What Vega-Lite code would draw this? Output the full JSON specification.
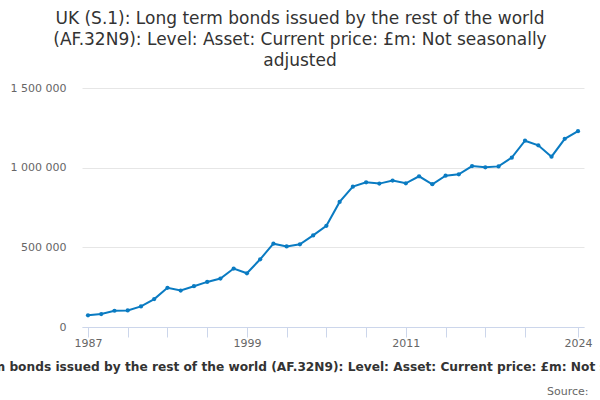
{
  "$schema": "https://vega.github.io/schema/vega-lite/v6.json",
  "width": 502,
  "height": 239,
  "autosize": {"type": "none"},
  "padding": {"left": 82, "top": 88, "right": 16, "bottom": 73},
  "background": "white",
  "config": {"view": {"stroke": null}, "font": "DejaVu Sans"},
  "title": {
    "text": ["UK (S.1): Long term bonds issued by the rest of the world", "(AF.32N9): Level: Asset: Current price: £m: Not seasonally", "adjusted"],
    "anchor": "middle",
    "dx": -33,
    "offset": 12,
    "fontSize": 17,
    "fontWeight": "normal",
    "color": "#333333",
    "lineHeight": 21
  },
  "data": {"values": [
    {"year": 1987, "value": 73000},
    {"year": 1988, "value": 81000},
    {"year": 1989, "value": 102000},
    {"year": 1990, "value": 104000},
    {"year": 1991, "value": 129000},
    {"year": 1992, "value": 175000},
    {"year": 1993, "value": 246000},
    {"year": 1994, "value": 229000},
    {"year": 1995, "value": 256000},
    {"year": 1996, "value": 283000},
    {"year": 1997, "value": 304000},
    {"year": 1998, "value": 367000},
    {"year": 1999, "value": 337000},
    {"year": 2000, "value": 425000},
    {"year": 2001, "value": 523000},
    {"year": 2002, "value": 506000},
    {"year": 2003, "value": 519000},
    {"year": 2004, "value": 575000},
    {"year": 2005, "value": 635000},
    {"year": 2006, "value": 785000},
    {"year": 2007, "value": 881000},
    {"year": 2008, "value": 908000},
    {"year": 2009, "value": 900000},
    {"year": 2010, "value": 919000},
    {"year": 2011, "value": 902000},
    {"year": 2012, "value": 946000},
    {"year": 2013, "value": 896000},
    {"year": 2014, "value": 950000},
    {"year": 2015, "value": 958000},
    {"year": 2016, "value": 1010000},
    {"year": 2017, "value": 1002000},
    {"year": 2018, "value": 1008000},
    {"year": 2019, "value": 1063000},
    {"year": 2020, "value": 1169000},
    {"year": 2021, "value": 1140000},
    {"year": 2022, "value": 1069000},
    {"year": 2023, "value": 1181000},
    {"year": 2024, "value": 1229000}
  ]},
  "mark": {"type": "line", "color": "#0a7bc2", "strokeWidth": 2, "point": {"filled": true, "size": 18, "color": "#0a7bc2"}},
  "encoding": {
    "x": {
      "field": "year",
      "type": "quantitative",
      "scale": {"domain": [1987, 2024], "nice": false, "zero": false, "padding": 6},
      "axis": {
        "values": [1987, 1990, 1993, 1996, 1999, 2002, 2005, 2008, 2011, 2014, 2017, 2020, 2024],
        "labelExpr": "(datum.value == 1987 || datum.value == 1999 || datum.value == 2011 || datum.value == 2024) ? datum.value + '' : ''",
        "grid": false,
        "domainColor": "#ccd6eb",
        "tickColor": "#ccd6eb",
        "tickSize": 10,
        "labelColor": "#666666",
        "labelFontSize": 11,
        "labelPadding": 0,
        "labelFlush": false,
        "labelOverlap": false,
        "title": "UK (S.1): Long term bonds issued by the rest of the world (AF.32N9): Level: Asset: Current price: £m: Not seasonally adjusted",
        "titleFontSize": 12.2,
        "titleFontWeight": "bold",
        "titleColor": "#333333",
        "titleX": 220,
        "titleY": 39,
        "titleAlign": "center",
        "titleBaseline": "middle"
      }
    },
    "y": {
      "field": "value",
      "type": "quantitative",
      "scale": {"domain": [0, 1500000], "nice": false},
      "axis": {
        "values": [0, 500000, 1000000, 1500000],
        "labelExpr": "replace(format(datum.value, ','), /,/g, ' ')",
        "domain": false,
        "ticks": false,
        "gridColor": "#e6e6e6",
        "labelColor": "#666666",
        "labelFontSize": 11,
        "labelPadding": 16,
        "title": "Source:",
        "titleAngle": 0,
        "titleX": 506,
        "titleY": 303,
        "titleAlign": "right",
        "titleBaseline": "middle",
        "titleFontWeight": "normal",
        "titleFontSize": 11,
        "titleColor": "#666666"
      }
    }
  }
}
